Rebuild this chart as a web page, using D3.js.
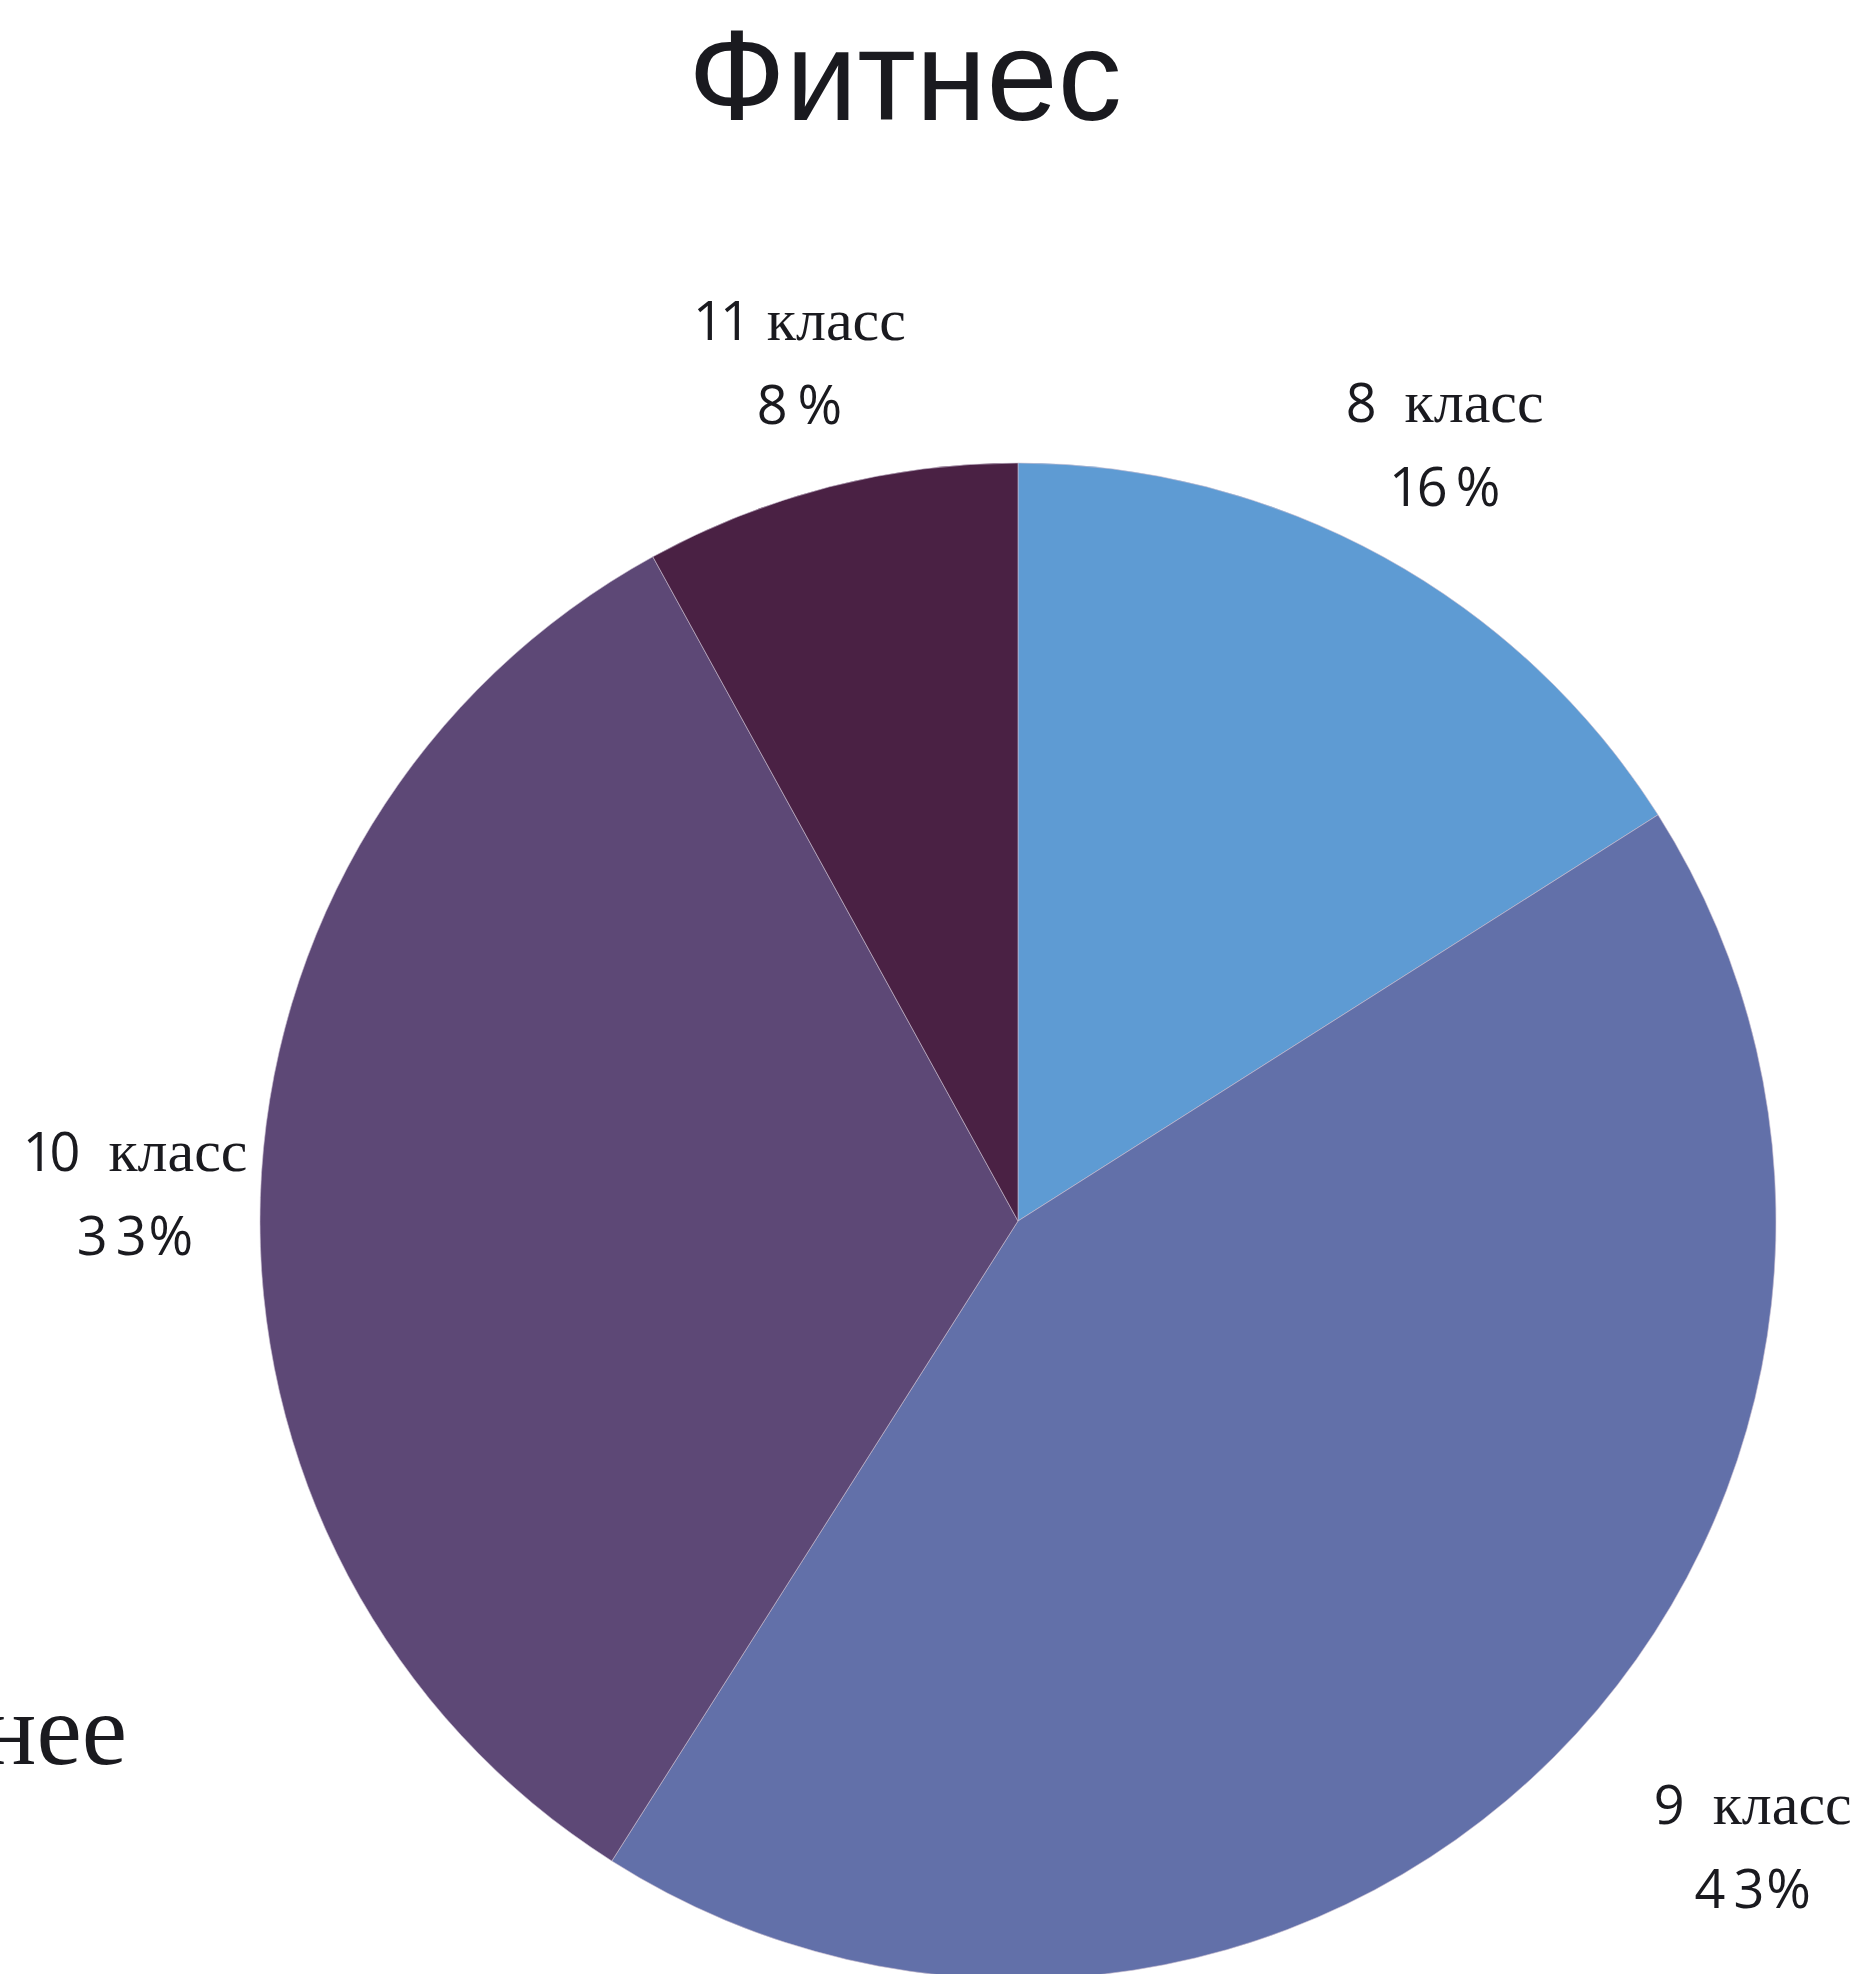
<!DOCTYPE html>
<html><head><meta charset="utf-8">
<script src="https://cdn.jsdelivr.net/npm/d3@7"></script>
<style>html,body{margin:0;padding:0;background:#fff;overflow:hidden}</style>
</head><body>
<script>
const title = "Фитнес";
const grades = ["8", "9", "10", "11"];
const classWord = "класс";
const percents = [16, 43, 33, 8];
const colors = ["#5e9bd3", "#6270a9", "#5d4876", "#4a2144"];
// layout: label distance from centre and angular shift (deg) for each slice
const labelRadius = [869, 978, 883, 867];
const labelShift = [0.6, -3.7, -1.3, -0.2];
const wordGap = [28, 28, 28, 16];
const digitGap = [-3, 8, 8, 0];
const percentGap = [8, 2, 2, 10];

const W = 1858, H = 1974;
const cx = 1018, cy = 1221, R = 758;

const svg = d3.select("body").append("svg").attr("width", W).attr("height", H);

svg.append("text").attr("x", 905).attr("y", 120).attr("text-anchor", "middle")
  .attr("font-family", "Liberation Sans, Arial, sans-serif").attr("font-size", 128)
  .attr("fill", "#1a1a1f").text(title);

svg.append("text").attr("x", 127).attr("y", 1764).attr("text-anchor", "end")
  .attr("font-family", "Liberation Serif, serif").attr("font-size", 102)
  .attr("fill", "#1a1a1f").text("нее");

const pie = d3.pie().sort(null).value(d => d);
const arcs = pie(percents);
const arc = d3.arc().innerRadius(0).outerRadius(R);

const g = svg.append("g").attr("transform", `translate(${cx},${cy})`);
g.selectAll("path").data(arcs).enter().append("path")
  .attr("d", arc).attr("fill", (d, i) => colors[i])
  .attr("stroke", "#c9bdd0").attr("stroke-width", 0.6);

arcs.forEach((d, i) => {
  const a = (d.startAngle + d.endAngle) / 2 + labelShift[i] * Math.PI / 180;
  const r = labelRadius[i];
  const x = Math.sin(a) * r, y = -Math.cos(a) * r;
  const t1 = g.append("text").attr("x", x).attr("y", y - 42).attr("text-anchor", "middle").attr("fill", "#1a1a1f");
  const gs = grades[i];
  t1.append("tspan").attr("font-family", "Open Sans, sans-serif").attr("font-size", 54)
    .attr("dx", gs.split("").map((c, k) => k === 0 ? 0 : -4).join(" ")).text(gs);
  t1.append("tspan").attr("dx", wordGap[i]).attr("font-family", "Liberation Serif, serif").attr("font-size", 60).text(classWord);
  const t2 = g.append("text").attr("x", x).attr("y", y + 42).attr("text-anchor", "middle").attr("fill", "#1a1a1f")
    .attr("font-family", "Open Sans, sans-serif").attr("font-size", 54);
  const ps = String(percents[i]);
  t2.append("tspan").attr("dx", ps.split("").map((c, k) => k === 0 ? 0 : digitGap[i]).join(" ")).text(ps);
  t2.append("tspan").attr("dx", percentGap[i]).text("%");
});
</script>
</body></html>
